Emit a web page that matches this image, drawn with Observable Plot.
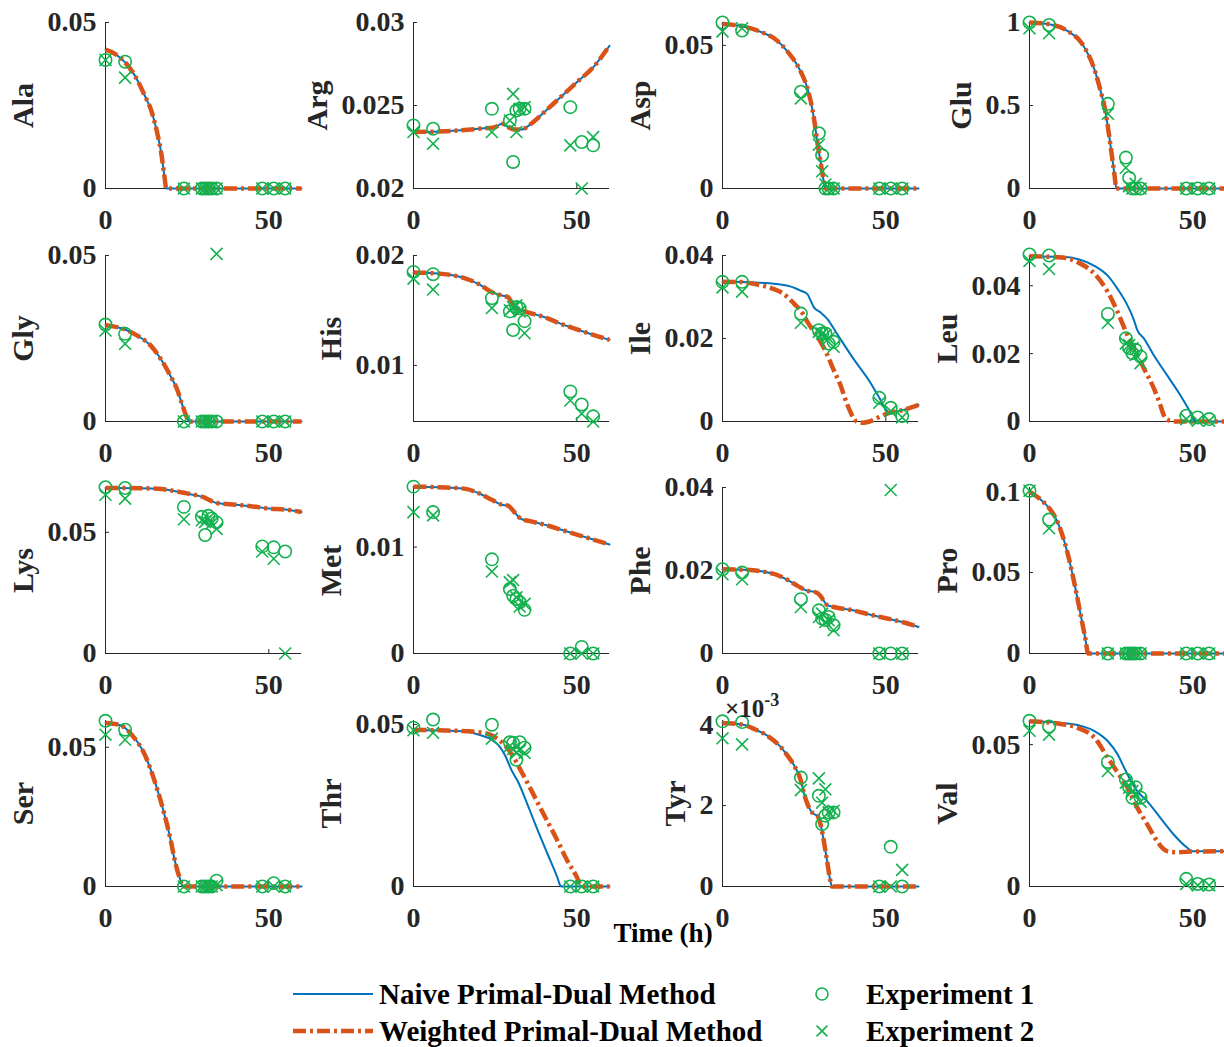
<!DOCTYPE html>
<html>
<head>
<meta charset="utf-8">
<script src="https://cdn.jsdelivr.net/npm/d3@7"></script>
<script src="https://cdn.jsdelivr.net/npm/@observablehq/plot@0.6"></script>
<style>
  html, body { margin: 0; padding: 0; background: #fff; }
  #fig { position: relative; width: 1224px; height: 1047px; overflow: hidden; background: #fff; }
  #fig svg { position: absolute; }
</style>
</head>
<body>
<div id="fig"></div>
<script>
// ---- Amino acid panels -------------------------------------------------
const acids = ["Ala", "Arg", "Asp", "Glu", "Gly", "His", "Ile", "Leu",
               "Lys", "Met", "Phe", "Pro", "Ser", "Thr", "Tyr", "Val"];

// Sampling times of both experiments (h)
const sampleTimes = [0, 6, 24, 29.5, 30.5, 31.5, 32.5, 34, 48, 51.5, 55];

// Measured concentrations, one row per amino acid (same order as acids)
const experiment1 = [
  [0.0387, 0.0382, 0, 0, 0, 0, 0, 0, 0, 0, 0],
  [0.0238, 0.0236, 0.0248, 0.0241, 0.0216, 0.0247, 0.0248, 0.0248, 0.0249, 0.0228, 0.0226],
  [0.058, 0.0552, 0.0338, 0.0193, 0.0116, 0, 0, 0, 0, 0, 0],
  [1.0, 0.985, 0.51, 0.186, 0.065, 0, 0, 0, 0, 0, 0],
  [0.0292, 0.0264, 0, 0, 0, 0, 0, 0, 0, 0, 0],
  [0.01851, 0.0183, 0.01612, 0.01492, 0.01322, 0.01531, 0.0152, 0.01403, 0.00764, 0.00645, 0.00537],
  [0.03365, 0.03365, 0.026, 0.022, 0.0212, 0.0212, 0.0188, 0.0192, 0.0057, 0.0033, 0.0013],
  [0.0492, 0.0489, 0.0317, 0.0245, 0.0216, 0.0201, 0.0211, 0.0191, 0.0017, 0.0012, 0.0007],
  [0.0686, 0.0683, 0.0605, 0.0564, 0.0489, 0.0568, 0.0557, 0.0541, 0.0442, 0.0438, 0.0421],
  [0.01568, 0.01329, 0.00885, 0.00606, 0.00543, 0.00512, 0.00481, 0.0041, 0, 0.00062, 0],
  [0.0203, 0.0195, 0.0131, 0.0104, 0.0084, 0.0081, 0.0088, 0.0068, 0, 0, 0],
  [0.1005, 0.0827, 0, 0, 0, 0, 0, 0, 0, 0, 0],
  [0.0595, 0.0563, 0, 0, 0, 0, 0, 0.0021, 0, 0.0012, 0],
  [0.049, 0.0515, 0.0499, 0.0445, 0.0443, 0.0391, 0.0445, 0.0428, 0, 0, 0],
  [0.00408, 0.00406, 0.00269, 0.00224, 0.00154, 0.00175, 0.00183, 0.00183, 0, 0.00098, 0],
  [0.0584, 0.0564, 0.0439, 0.0377, 0.035, 0.0313, 0.035, 0.0313, 0.0027, 0.0009, 0.0007]
];

const experiment2 = [
  [0.0387, 0.0334, 0, 0, 0, 0, 0, 0, 0, 0, 0],
  [0.0234, 0.0227, 0.0234, 0.0241, 0.0257, 0.0234, 0.0248, 0.0249, 0.0226, 0.0200, 0.0231],
  [0.0549, 0.056, 0.0315, 0.0153, 0.006, 0.0014, 0, 0, 0, 0, 0],
  [0.965, 0.935, 0.45, 0.125, 0.014, 0, 0.028, 0, 0, 0, 0],
  [0.0274, 0.0234, 0, 0, 0, 0, 0, 0.0505, 0, 0, 0],
  [0.0179, 0.0169, 0.01522, 0.01501, 0.0153, 0.01546, 0.0149, 0.01293, 0.00681, 0.00561, 0.0049],
  [0.0323, 0.0313, 0.0238, 0.0216, 0.0212, 0.0208, 0.02, 0.018, 0.0045, 0.0025, 0.001],
  [0.0473, 0.0449, 0.0291, 0.023, 0.0225, 0.0216, 0.0196, 0.0172, 0.0007, 0.0002, 0.0002],
  [0.0655, 0.0639, 0.0554, 0.055, 0.0543, 0.0557, 0.0537, 0.0514, 0.0421, 0.0391, 0],
  [0.01329, 0.01298, 0.0077, 0.00668, 0.0069, 0.00528, 0.00441, 0.00466, 0, 0, 0],
  [0.0191, 0.0179, 0.0112, 0.0088, 0.0096, 0.0076, 0.008, 0.0056, 0, 0.0394, 0],
  [0.1005, 0.0773, 0, 0, 0, 0, 0, 0, 0, 0, 0],
  [0.0545, 0.0527, 0, 0, 0, 0, 0, 0.0005, 0, 0, 0],
  [0.0482, 0.0474, 0.0456, 0.0433, 0.0424, 0.0412, 0.0423, 0.0412, 0, 0, 0],
  [0.00366, 0.00351, 0.00238, 0.00267, 0.00207, 0.0024, 0.00183, 0.00187, 0, 0, 0.00041],
  [0.0549, 0.0535, 0.0407, 0.0366, 0.0348, 0.0336, 0.0325, 0.0299, 0.0009, 0.0004, 0.0004]
];

// Simulated trajectories, [time, concentration] pairs
const alaCurve = [[0,0.0418],[3,0.0405],[6,0.038],[9,0.034],[12,0.028],[14,0.0235],[16,0.016],[17,0.011],[18,0.004],[18.6,0],[60,0]];
const argCurve = [[0,0.0234],[10,0.02345],[20,0.0236],[25,0.0237],[27,0.0239],[29,0.0237],[31,0.02355],[33,0.02355],[36,0.0239],[40,0.0246],[45,0.0255],[50,0.0264],[55,0.0273],[60,0.0286]];
const aspCurve = [[0,0.0575],[6,0.0567],[12,0.0546],[16,0.0523],[20,0.0477],[24,0.0407],[26,0.035],[28,0.0245],[29,0.0164],[30,0.0095],[31,0.0025],[31.5,0],[60,0]];
const gluCurve = [[0,1.0],[6,0.99],[12,0.945],[16,0.875],[20,0.71],[22,0.57],[23,0.49],[24,0.37],[25,0.23],[26,0.085],[26.6,0],[60,0]];
const glyCurve = [[0,0.029],[6,0.0277],[10,0.0257],[14,0.0227],[17,0.0187],[20,0.0135],[22,0.0095],[23.5,0.005],[25,0.001],[25.5,0],[60,0]];
const hisCurve = [[0,0.01845],[6,0.01839],[12,0.0182],[16,0.0179],[20,0.0174],[24,0.01666],[27,0.01636],[29,0.0162],[30,0.01576],[32,0.01516],[34,0.01492],[40,0.0144],[45,0.0138],[50,0.01328],[55,0.01278],[60,0.01233]];
const ileNaive = [[0,0.03365],[10,0.0335],[20,0.0327],[24,0.0315],[26,0.0307],[27,0.0291],[28,0.0275],[30,0.0263],[32,0.0248],[35,0.0212],[40,0.0152],[45,0.0097],[48,0.0057],[50,0.0029],[51,0.0022],[55,0.0027],[60,0.004]];
const ileWeighted = [[0,0.03365],[6,0.0336],[10,0.0331],[15,0.0321],[18,0.0311],[20,0.0299],[22,0.0283],[24,0.0267],[26,0.024],[28,0.0216],[30,0.0192],[32,0.0162],[34,0.0125],[36,0.009],[38,0.0045],[40,0.001],[41,0],[43,-0.0003],[45,0],[48,0.0011],[51,0.0021],[55,0.0027],[60,0.004]];
const leuNaive = [[0,0.0487],[10,0.0485],[15,0.0478],[20,0.0458],[24,0.0429],[27,0.039],[30,0.0342],[32,0.0298],[33,0.0269],[35,0.0245],[38,0.0196],[42,0.0138],[46,0.008],[49,0.0031],[50,0.0012],[51,0],[60,0]];
const leuWeighted = [[0,0.0487],[10,0.0483],[15,0.0468],[20,0.0434],[24,0.0381],[27,0.0322],[30,0.0254],[32,0.0216],[35,0.0157],[38,0.0099],[40,0.005],[41,0.0021],[42,0.0007],[44,0],[60,0]];
const lysCurve = [[0,0.0683],[10,0.0682],[16,0.068],[20,0.0673],[24,0.0663],[28,0.0652],[30,0.0645],[32,0.0632],[34,0.0621],[40,0.0614],[45,0.0607],[50,0.0598],[55,0.0594],[60,0.0584]];
const metCurve = [[0,0.01568],[10,0.0156],[16,0.01547],[20,0.01506],[24,0.01444],[27,0.01398],[29,0.0139],[30,0.0136],[32,0.01289],[33,0.01264],[36,0.01242],[40,0.01211],[45,0.01165],[50,0.01118],[55,0.01071],[60,0.01025]];
const pheCurve = [[0,0.0203],[6,0.0202],[12,0.0198],[16,0.0191],[20,0.0177],[23,0.0163],[26,0.0151],[28,0.0149],[30,0.0139],[31,0.0127],[32,0.0117],[34,0.0112],[40,0.0104],[45,0.0094],[50,0.0085],[55,0.0076],[60,0.0064]];
const proCurve = [[0,0.1],[3,0.0957],[6,0.0898],[8,0.0837],[10,0.0735],[12,0.0592],[14,0.0408],[16,0.0204],[17,0.0102],[18,0],[60,0]];
const serCurve = [[0,0.0587],[4,0.0581],[6,0.0569],[8,0.0545],[10,0.0515],[12,0.0474],[14,0.0414],[16,0.0343],[18,0.026],[20,0.0164],[21,0.0105],[22,0.0057],[23,0.0021],[23.6,0],[60,0]];
const thrNaive = [[0,0.0483],[10,0.0481],[16,0.0478],[20,0.0468],[24,0.0452],[26,0.0436],[28,0.0405],[30,0.0359],[32,0.0323],[35,0.025],[38,0.0174],[41,0.0101],[44,0.0029],[45,0.0002],[45.5,0],[60,0]];
const thrWeighted = [[0,0.0483],[10,0.0481],[16,0.0479],[20,0.0476],[24,0.0466],[27,0.0445],[30,0.0409],[33,0.0355],[36,0.0298],[40,0.022],[44,0.0143],[47,0.0081],[50,0.0029],[51,0.0008],[52,0],[60,0]];
const tyrCurve = [[0,0.00404],[6,0.004],[10,0.00388],[14,0.00371],[18,0.00343],[20,0.00322],[22,0.00298],[24,0.00261],[25,0.00228],[26,0.00204],[27,0.00187],[28,0.00179],[29,0.00175],[30,0.00154],[31,0.00113],[32,0.00064],[33,0.00015],[33.5,0],[60,0]];
const valNaive = [[0,0.0582],[10,0.0576],[15,0.0568],[20,0.0547],[24,0.0512],[27,0.0465],[29,0.0418],[30,0.0395],[33,0.0336],[36,0.0301],[40,0.0243],[44,0.0185],[48,0.0139],[50,0.0124],[60,0.0124]];
const valWeighted = [[0,0.0582],[10,0.0572],[15,0.0558],[20,0.0523],[24,0.0453],[27,0.0401],[30,0.0348],[33,0.0278],[36,0.022],[39,0.0161],[41,0.0132],[43,0.0122],[45,0.0121],[50,0.0123],[60,0.0124]];

// Both methods give the same trajectory wherever one array is listed twice
const naiveCurves = [alaCurve, argCurve, aspCurve, gluCurve, glyCurve, hisCurve, ileNaive, leuNaive,
                     lysCurve, metCurve, pheCurve, proCurve, serCurve, thrNaive, tyrCurve, valNaive];
const weightedCurves = [alaCurve, argCurve, aspCurve, gluCurve, glyCurve, hisCurve, ileWeighted, leuWeighted,
                        lysCurve, metCurve, pheCurve, proCurve, serCurve, thrWeighted, tyrCurve, valWeighted];

// Axis limits and ticks
const yDomains = [[0, 0.05], [0.02, 0.03], [0, 0.058], [0, 1],
                  [0, 0.05], [0.0049, 0.02], [0, 0.04], [0, 0.0489],
                  [0, 0.0685], [0, 0.0156], [0, 0.04], [0, 0.1025],
                  [0, 0.0596], [0, 0.0512], [0, 0.0041], [0, 0.0585]];
const yTicks = [[0, 0.05], [0.02, 0.025, 0.03], [0, 0.05], [0, 0.5, 1],
                [0, 0.05], [0.01, 0.02], [0, 0.02, 0.04], [0, 0.02, 0.04],
                [0, 0.05], [0, 0.01], [0, 0.02, 0.04], [0, 0.05, 0.1],
                [0, 0.05], [0, 0.05], [0, 0.002, 0.004], [0, 0.05]];
const yTickLabels = [["0", "0.05"], ["0.02", "0.025", "0.03"], ["0", "0.05"], ["0", "0.5", "1"],
                     ["0", "0.05"], ["0.01", "0.02"], ["0", "0.02", "0.04"], ["0", "0.02", "0.04"],
                     ["0", "0.05"], ["0", "0.01"], ["0", "0.02", "0.04"], ["0", "0.05", "0.1"],
                     ["0", "0.05"], ["0", "0.05"], ["0", "2", "4"], ["0", "0.05"]];
const xDomain = [0, 60];
const xTicks = [0, 50];

const methodNames = ["Naive Primal-Dual Method", "Weighted Primal-Dual Method"];
const experimentNames = ["Experiment 1", "Experiment 2"];
const xTitle = "Time (h)";

// ---- Styling and layout ------------------------------------------------
const FONT = "'Liberation Serif', 'Times New Roman', serif";
const INK = "#262626";
const BLUE = "#0072bd", ORANGE = "#d95319", GREEN = "#14b14f";
const DASH_DOT = "13,4,3,4";
const colLeft = [0, 308, 616.5, 924];
const frameTop = [22, 255, 487, 720];
const FRAME_H = 166, PLOT_W = 196;
const M_L = 105, M_R = 8, M_T = 12, M_B = 52;
const TICK_FONT = 28, LABEL_FONT = 30;

const fig = document.getElementById("fig");
const measure = document.createElement("canvas").getContext("2d");
measure.font = `bold ${TICK_FONT}px ${FONT}`;

const asRows = (pairs) => pairs.map(([t, v]) => ({t, v}));

acids.forEach((name, i) => {
  const row = Math.floor(i / 4), col = i % 4;
  const [lo, hi] = yDomains[i];
  const labelOf = new Map(yTicks[i].map((v, k) => [v, yTickLabels[i][k]]));
  const tickW = Math.max(...yTickLabels[i].map((s) => measure.measureText(s).width));
  const obs1 = sampleTimes.map((t, k) => ({t, v: experiment1[i][k]}));
  const obs2 = sampleTimes.map((t, k) => ({t, v: experiment2[i][k]}));
  const textStyle = {fontFamily: FONT, fontWeight: "bold", fill: INK};

  const svg = Plot.plot({
    width: M_L + PLOT_W + M_R,
    height: M_T + FRAME_H + M_B,
    marginLeft: M_L, marginRight: M_R, marginTop: M_T, marginBottom: M_B,
    style: {background: "transparent", overflow: "visible", fontFamily: FONT, fontSize: `${TICK_FONT}px`},
    x: {domain: xDomain},
    y: {domain: [lo, hi]},
    marks: [
      // axis lines (left and bottom only) with small inward ticks
      Plot.ruleX([xDomain[0]], {stroke: INK, strokeWidth: 1}),
      Plot.ruleY([lo], {stroke: INK, strokeWidth: 1}),
      Plot.ruleY(yTicks[i], {x1: xDomain[0], x2: xDomain[0] + (xDomain[1] - xDomain[0]) * 0.02, stroke: INK}),
      Plot.ruleX(xTicks, {y1: lo, y2: lo + (hi - lo) * 0.024, stroke: INK}),
      Plot.axisY(yTicks[i], {
        tickSize: 0, tickPadding: 9, label: null,
        tickFormat: (d) => labelOf.get(d),
        fontSize: TICK_FONT, ...textStyle
      }),
      Plot.axisX(xTicks, {
        tickSize: 0, tickPadding: 21, label: null,
        tickFormat: (d) => String(d),
        fontSize: TICK_FONT, ...textStyle
      }),
      Plot.text([name], {
        frameAnchor: "left", rotate: -90, dx: -(9 + tickW + 24),
        textAnchor: "middle", lineAnchor: "middle",
        fontSize: LABEL_FONT, ...textStyle
      }),
      // simulated trajectories
      Plot.line(asRows(naiveCurves[i]), {x: "t", y: "v", stroke: BLUE, strokeWidth: 2, curve: "monotone-x"}),
      Plot.line(asRows(weightedCurves[i]), {
        x: "t", y: "v", stroke: ORANGE, strokeWidth: 4.5, strokeLinecap: "butt",
        strokeDasharray: DASH_DOT, curve: "monotone-x"
      }),
      // measurements
      Plot.dot(obs1, {x: "t", y: "v", symbol: "circle", r: 6.2, stroke: GREEN, strokeWidth: 1.6, fill: "none"}),
      Plot.dot(obs2, {x: "t", y: "v", symbol: "times", r: 5.5, stroke: GREEN, strokeWidth: 1.6})
    ]
  });
  svg.style.left = `${colLeft[col]}px`;
  svg.style.top = `${frameTop[row] - M_T}px`;
  fig.appendChild(svg);
});

// ---- Shared annotations: x title, exponent note and legend -------------
const notes = d3.create("svg")
  .attr("width", 1224).attr("height", 1047)
  .style("left", "0px").style("top", "0px")
  .style("font-family", FONT).style("font-weight", "bold").style("fill", "#000");

notes.append("text")
  .attr("x", 663).attr("y", 942).attr("text-anchor", "middle")
  .attr("font-size", 27).text(xTitle);

// scale factor of the Tyr panel
const expo = notes.append("text").attr("x", 725).attr("y", 717).attr("font-size", 25).attr("fill", INK);
expo.append("tspan").text("\u00d710");
expo.append("tspan").attr("dy", -11).attr("font-size", 18).text("-3");

const leg = notes.append("g");
const rowsY = [994, 1031];
const lineX = [293, 373];
const markerX = 822;
leg.append("line").attr("x1", lineX[0]).attr("x2", lineX[1]).attr("y1", rowsY[0]).attr("y2", rowsY[0])
  .attr("stroke", BLUE).attr("stroke-width", 2);
leg.append("line").attr("x1", lineX[0]).attr("x2", lineX[1]).attr("y1", rowsY[1]).attr("y2", rowsY[1])
  .attr("stroke", ORANGE).attr("stroke-width", 4.5).attr("stroke-dasharray", DASH_DOT);
methodNames.forEach((s, k) => {
  leg.append("text").attr("x", 379).attr("y", rowsY[k] + 10).attr("font-size", 29).text(s);
});
leg.append("path").attr("d", d3.symbol(d3.symbolCircle, Math.PI * 36)())
  .attr("transform", `translate(${markerX},${rowsY[0]})`)
  .attr("fill", "none").attr("stroke", GREEN).attr("stroke-width", 1.6);
leg.append("path").attr("d", d3.symbol(d3.symbolTimes, Math.PI * 25)())
  .attr("transform", `translate(${markerX},${rowsY[1]})`)
  .attr("fill", "none").attr("stroke", GREEN).attr("stroke-width", 1.6);
experimentNames.forEach((s, k) => {
  leg.append("text").attr("x", 866).attr("y", rowsY[k] + 10).attr("font-size", 29).text(s);
});

fig.appendChild(notes.node());
</script>
</body>
</html>
